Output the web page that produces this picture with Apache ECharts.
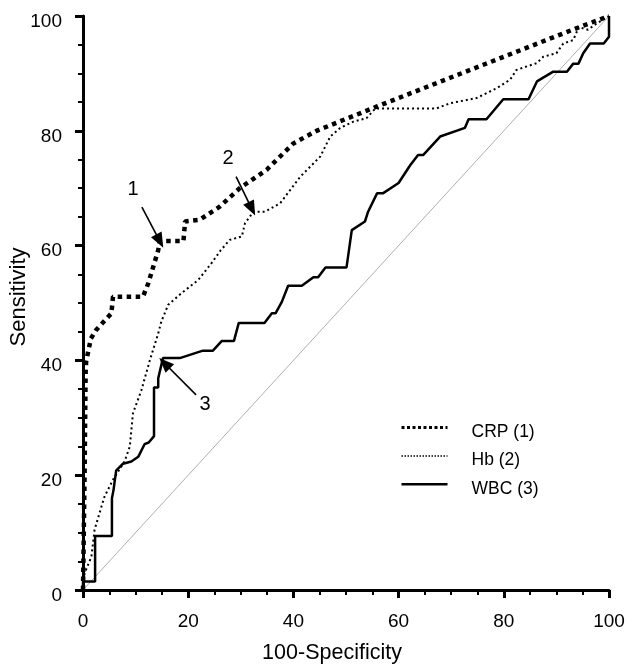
<!DOCTYPE html>
<html>
<head>
<meta charset="utf-8">
<script src="https://cdn.jsdelivr.net/npm/echarts@6/dist/echarts.min.js"></script>
<style>
  html, body { margin: 0; padding: 0; background: #fff; }
  #chart-container { width: 632px; height: 667px; }
</style>
</head>
<body>
<div id="chart-container"></div>
<script>
// ROC curves, points: [100-specificity, sensitivity]
const crpPoints = [
  [0, 0], [0.3, 20], [0.5, 38], [0.6, 39.8], [1.5, 43.8], [2.5, 45.3], [4.1, 46.9],
  [5.4, 48.2], [5.7, 51.1], [11.4, 51.1], [12.4, 53.4], [14.3, 59.2], [14.6, 60.8],
  [19.1, 60.8], [19.4, 64.2], [22.2, 64.5], [26, 66.8], [29.8, 70], [34.9, 73.2],
  [40, 77.8], [44.4, 80], [55.8, 84.2], [93.9, 97.9], [100, 100]
];
const hbPoints = [
  [0, 0], [0.3, 2.9], [1.6, 5.8], [2.2, 10.5], [3.5, 14.5], [4.1, 16.3], [5.7, 19.2],
  [7.9, 22.4], [8.9, 25], [9.5, 30.8], [11.1, 34.8], [12.7, 40], [14.3, 44.7],
  [14.9, 46.8], [16.2, 49.7], [18.7, 51.7], [21.9, 54], [24.4, 56.9], [26.2, 59.2],
  [27.9, 61], [30.2, 61.6], [30.8, 63.9], [32.4, 65.9], [34.6, 65.9], [37.5, 67.4],
  [41.3, 72], [45.1, 75.5], [47, 79], [48.9, 80.5], [51.4, 81.6], [53.9, 82.2],
  [55.6, 83.9], [67.2, 83.9], [69.8, 84.8], [74.8, 85.7], [78.6, 87.4], [81.2, 88.9],
  [82.4, 90.6], [86.3, 91.8], [87.5, 92.9], [90, 93.5], [91.3, 95.2], [93.2, 95.8],
  [93.9, 97.3], [94.2, 98.1], [96, 97.6], [97.5, 98.6], [100, 100]
];
const wbcPoints = [
  [0, 0], [0, 1.5], [2.3, 1.5], [2.3, 9.4], [5.5, 9.4], [5.5, 16], [5.8, 17.4],
  [6.3, 20.8], [7.6, 22], [9.2, 22.4], [10.5, 23.2], [11.7, 25.4], [12.5, 25.7],
  [13.5, 26.8], [13.5, 35.3], [14.3, 35.3], [14.3, 36.9], [15.2, 40.4], [18.4, 40.4],
  [22.8, 41.7], [24.7, 41.7], [26.4, 43.4], [28.7, 43.4], [29.6, 46.5], [34.5, 46.5],
  [35.9, 48.2], [36.6, 48.2], [37.8, 50.2], [39, 53], [41.6, 53], [43.8, 54.5],
  [44.7, 54.5], [46.1, 56.2], [50.1, 56.2], [51.1, 62.7], [53.6, 64.2], [54.2, 65.9],
  [55.9, 69.1], [57, 69.1], [60, 70.9], [62.2, 74], [63.7, 75.8], [64.7, 75.8],
  [67.9, 79], [72.6, 80.5], [73.3, 82], [76.7, 82], [79.9, 85.5], [84.7, 85.5],
  [86.3, 88.6], [89.4, 90.3], [92, 90.3], [93.2, 91.7], [94.2, 91.7], [95.1, 93.5],
  [96.4, 95.2], [99, 95.2], [100, 96.4], [100, 100]
];
const diagonalPoints = [[0, 0], [100, 100]];

// annotation arrows: [tail, tip] and the number written near the tail
const arrowLines = [
  [[11.2, 66.7], [14.6, 60.8]],
  [[29.1, 72.0], [32.1, 66.4]],
  [[21.5, 34.0], [15.5, 39.5]]
];
const arrowLabels = [
  ['1', [9.5, 69.7]],
  ['2', [27.6, 75.1]],
  ['3', [23.2, 32.4]]
];

const font = 'Liberation Sans, Arial, sans-serif';

const myChart = echarts.init(document.getElementById('chart-container'));
const option = {
  animation: false,
  grid: { left: 83, right: 23, top: 16, bottom: 77, outerBoundsMode: 'none' },
  legend: {
    data: [
      { name: 'CRP (1)', lineStyle: { width: 3, type: [3, 2.5] } },
      { name: 'Hb (2)', lineStyle: { width: 1.5, type: [1.5, 1.5] } },
      { name: 'WBC (3)', lineStyle: { width: 2.5 } }
    ],
    orient: 'vertical',
    left: 400,
    top: 422,
    padding: 0,
    itemWidth: 46,
    itemHeight: 14,
    itemGap: 9.2,
    itemStyle: { opacity: 0 },
    formatter: name => '{t|' + name + '}',
    textStyle: {
      rich: {
        t: { fontFamily: font, fontSize: 17.5, color: '#000', padding: [9, 0, 0, 19] }
      }
    }
  },
  xAxis: {
    type: 'value',
    min: 0, max: 100, interval: 20,
    name: '100-Specificity',
    nameLocation: 'middle',
    nameGap: 52,
    nameTextStyle: { fontFamily: font, fontSize: 21.5, color: '#000', padding: [0, 28, 0, 0] },
    axisLine: { lineStyle: { color: '#000', width: 3 } },
    axisTick: { length: 8, lineStyle: { width: 3 } },
    minorTick: { show: true, splitNumber: 4, length: 5, lineStyle: { color: '#000', width: 2 } },
    axisLabel: { fontFamily: font, fontSize: 19, color: '#000', margin: 22 },
    splitLine: { show: false }
  },
  yAxis: {
    type: 'value',
    min: 0, max: 100, interval: 20,
    name: 'Sensitivity',
    nameLocation: 'middle',
    nameGap: 53,
    nameMoveOverlap: false,
    nameTextStyle: { fontFamily: font, fontSize: 22, color: '#000', padding: [0, 0, 0, 12] },
    axisLine: { lineStyle: { color: '#000', width: 3 } },
    axisTick: { length: 8, lineStyle: { width: 3 } },
    minorTick: { show: true, splitNumber: 4, length: 5, lineStyle: { color: '#000', width: 2 } },
    axisLabel: { fontFamily: font, fontSize: 19, color: '#000', margin: 21, verticalAlign: 'top', lineHeight: 11 },
    splitLine: { show: false }
  },
  series: [
    {
      name: 'diagonal',
      type: 'line',
      data: diagonalPoints,
      symbol: 'none',
      silent: true,
      lineStyle: { color: '#9a9a9a', width: 0.8 },
      markLine: {
        silent: true,
        symbol: ['none', 'triangle'],
        symbolSize: [12, 15],
        label: { show: false },
        lineStyle: { color: '#000', width: 1.6, type: 'solid' },
        data: arrowLines.map(([a, b]) => [{ coord: a }, { coord: b }])
      },
      markPoint: {
        silent: true,
        symbol: 'circle',
        symbolSize: 1,
        itemStyle: { color: 'transparent' },
        label: { show: true, position: 'inside', fontFamily: font, fontSize: 20, color: '#000' },
        data: arrowLabels.map(([t, c]) => ({ coord: c, value: t, label: { formatter: t } }))
      }
    },
    {
      name: 'WBC (3)',
      type: 'line',
      data: wbcPoints,
      symbol: 'none',
      lineStyle: { color: '#000', width: 2.5 },
      itemStyle: { color: '#000' }
    },
    {
      name: 'Hb (2)',
      type: 'line',
      data: hbPoints,
      symbol: 'none',
      lineStyle: { color: '#000', width: 2, type: [2, 3] },
      itemStyle: { color: '#000' }
    },
    {
      name: 'CRP (1)',
      type: 'line',
      data: crpPoints,
      symbol: 'none',
      lineStyle: { color: '#000', width: 4.5, type: [4.5, 4.5] },
      itemStyle: { color: '#000' }
    }
  ]
};
myChart.setOption(option);
</script>
</body>
</html>
